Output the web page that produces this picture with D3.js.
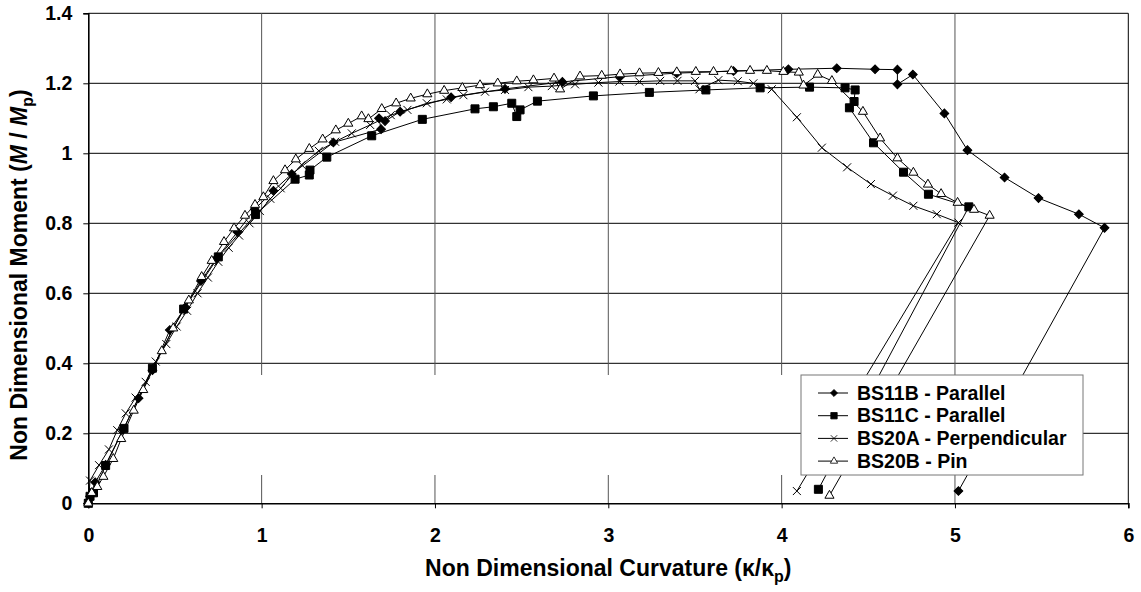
<!DOCTYPE html>
<html>
<head>
<meta charset="utf-8">
<script src="https://cdn.jsdelivr.net/npm/d3@7"></script>
<style>
  body { margin: 0; background: #fff; }
  text { font-family: Arial, "Liberation Sans", sans-serif; font-weight: bold; }
</style>
</head>
<body>
<div id="chart"></div>
<script>
// moment-curvature test data, [curvature, moment] (both non dimensional)
var bs11b = [[0,0],[0.01,0.02],[0.04,0.06],[0.1,0.11],[0.2,0.21],[0.29,0.3],[0.37,0.38],[0.47,0.495],
  [0.56,0.56],[0.65,0.635],[0.74,0.7],[0.86,0.775],[0.96,0.84],[1.068,0.893],[1.174,0.941],[1.414,1.031],
  [1.689,1.069],[1.677,1.1],[1.712,1.092],[1.799,1.119],[2.093,1.16],[2.404,1.184],[2.735,1.204],
  [3.068,1.219],[3.395,1.229],[3.722,1.235],[4.039,1.24],[4.318,1.243],[4.539,1.24],[4.668,1.239],
  [4.668,1.197],[4.757,1.225],[4.939,1.114],[5.072,1.009],[5.286,0.931],[5.482,0.872],[5.715,0.826],
  [5.863,0.787],[5.02,0.035]];

var bs11c = [[0,0],[0.01,0.02],[0.03,0.03],[0.1,0.108],[0.206,0.214],[0.37,0.386],[0.55,0.555],
  [0.75,0.704],[0.965,0.825],[1.193,0.926],[1.275,0.938],[1.279,0.952],[1.376,0.989],[1.635,1.05],
  [1.927,1.097],[2.231,1.127],[2.337,1.133],[2.443,1.143],[2.472,1.105],[2.491,1.124],[2.591,1.149],
  [2.914,1.164],[3.237,1.174],[3.563,1.181],[3.876,1.187],[4.161,1.189],[4.366,1.187],[4.424,1.181],
  [4.418,1.148],[4.391,1.13],[4.53,1.03],[4.703,0.946],[4.847,0.883],[5.08,0.847],[4.212,0.04]];

var bs20a = [[0,0],[0.01,0.065],[0.062,0.109],[0.119,0.154],[0.167,0.209],[0.216,0.257],[0.273,0.302],
  [0.331,0.347],[0.389,0.405],[0.45,0.455],[0.51,0.505],[0.57,0.55],[0.63,0.6],[0.69,0.645],[0.75,0.69],
  [0.81,0.73],[0.87,0.765],[0.93,0.8],[0.99,0.835],[1.05,0.87],[1.11,0.9],[1.17,0.935],[1.231,0.967],
  [1.33,1.007],[1.424,1.033],[1.52,1.057],[1.626,1.081],[1.745,1.109],[1.841,1.124],[1.953,1.143],
  [2.068,1.154],[2.164,1.166],[2.289,1.176],[2.404,1.181],[2.539,1.189],[2.674,1.192],[2.808,1.197],
  [2.943,1.202],[3.064,1.205],[3.179,1.205],[3.299,1.207],[3.399,1.207],[3.501,1.207],[3.526,1.183],
  [3.635,1.209],[3.747,1.206],[3.837,1.2],[3.943,1.183],[4.088,1.103],[4.232,1.016],[4.378,0.96],
  [4.515,0.912],[4.642,0.879],[4.76,0.85],[4.895,0.826],[5.02,0.802],[4.088,0.035]];

var bs20b = [[0,0],[0.02,0.03],[0.052,0.047],[0.087,0.076],[0.144,0.127],[0.19,0.184],[0.262,0.265],
  [0.317,0.324],[0.424,0.435],[0.49,0.5],[0.58,0.58],[0.654,0.647],[0.712,0.693],[0.783,0.747],
  [0.841,0.786],[0.904,0.822],[0.962,0.853],[1.01,0.875],[1.068,0.921],[1.135,0.952],[1.197,0.983],
  [1.275,1.013],[1.352,1.04],[1.428,1.066],[1.5,1.085],[1.577,1.106],[1.616,1.098],[1.693,1.127],
  [1.776,1.143],[1.86,1.157],[1.956,1.169],[2.053,1.179],[2.158,1.187],[2.26,1.195],[2.362,1.2],
  [2.472,1.206],[2.568,1.209],[2.687,1.214],[2.722,1.183],[2.837,1.22],[2.962,1.222],[3.068,1.226],
  [3.18,1.229],[3.289,1.23],[3.395,1.232],[3.505,1.233],[3.607,1.233],[3.71,1.235],[3.818,1.236],
  [3.915,1.236],[4.01,1.233],[4.099,1.231],[4.126,1.194],[4.208,1.225],[4.29,1.207],[4.469,1.119],
  [4.568,1.043],[4.668,0.986],[4.76,0.945],[4.844,0.911],[4.92,0.884],[5.015,0.859],[5.11,0.839],
  [5.2,0.822],[4.276,0.022]];

var seriesNames = ["BS11B - Parallel", "BS11C - Parallel", "BS20A - Perpendicular", "BS20B - Pin"];
var xTicks = [0, 1, 2, 3, 4, 5, 6];
var yTicks = [0, 0.2, 0.4, 0.6, 0.8, 1, 1.2, 1.4];

var width = 1141, height = 592;
var plotL = 88.3, plotR = 1128.3, plotT = 13.3, plotB = 503.3;

var x = d3.scaleLinear().domain([0, 6]).range([plotL, plotR]);
var y = d3.scaleLinear().domain([0, 1.4]).range([plotB, plotT]);

var svg = d3.select("#chart").append("svg")
    .attr("width", width)
    .attr("height", height);

// legend box position, the vertical grid lines stop at its band
var legX = 801, legY = 375, legW = 282, legH = 100;

// horizontal grid
svg.append("g").selectAll("line")
    .data(yTicks.slice(1))
    .enter().append("line")
    .attr("x1", plotL).attr("x2", plotR)
    .attr("y1", function(d) { return y(d); })
    .attr("y2", function(d) { return y(d); })
    .style("stroke", "#000")
    .style("stroke-width", 1);

// vertical grid, in two pieces
var vgrid = svg.append("g");
xTicks.slice(1, -1).forEach(function(t) {
    vgrid.append("line")
        .attr("x1", x(t)).attr("x2", x(t))
        .attr("y1", plotT).attr("y2", legY)
        .style("stroke", "#555").style("stroke-width", 1);
    vgrid.append("line")
        .attr("x1", x(t)).attr("x2", x(t))
        .attr("y1", legY + legH).attr("y2", plotB)
        .style("stroke", "#555").style("stroke-width", 1);
});

// right border
svg.append("line")
    .attr("x1", plotR).attr("x2", plotR).attr("y1", plotT).attr("y2", plotB)
    .style("stroke", "#000").style("stroke-width", 1);

// axes
var xAxis = d3.axisBottom(x).tickValues(xTicks).tickSize(5).tickPadding(20).tickFormat(d3.format("d"));
var yAxis = d3.axisLeft(y).tickValues(yTicks).tickSize(5).tickPadding(11)
    .tickFormat(function(d) { return d === 0 || d === 1 ? d3.format("d")(d) : d3.format(".1f")(d); });

var gx = svg.append("g").attr("transform", "translate(0," + plotB + ")").call(xAxis);
var gy = svg.append("g").attr("transform", "translate(" + plotL + ",0)").call(yAxis);

[gx, gy].forEach(function(g) {
    g.select(".domain").style("stroke", "#000").style("stroke-width", 1.6);
    g.selectAll(".tick line").style("stroke", "#000");
    g.selectAll(".tick text")
        .style("font-size", "19.5px")
        .style("font-family", "Arial, 'Liberation Sans', sans-serif")
        .style("font-weight", "bold")
        .style("fill", "#000");
});

// symbols
var diamondPath = d3.symbol().type(d3.symbolSquare).size(38)();
var squarePath = d3.symbol().type(d3.symbolSquare).size(64)();
var trianglePath = d3.symbol().type(d3.symbolTriangle).size(36)();
var crossPath = "M-4,-4L4,4M-4,4L4,-4";

var styles = [
    { data: bs11b, path: diamondPath, rotate: 45, fill: "#000", stroke: "#000" },
    { data: bs11c, path: squarePath, rotate: 0, fill: "#000", stroke: "#000" },
    { data: bs20a, path: crossPath, rotate: 0, fill: "none", stroke: "#000" },
    { data: bs20b, path: trianglePath, rotate: 0, fill: "#fff", stroke: "#000" }
];

var line = d3.line()
    .x(function(d) { return x(d[0]); })
    .y(function(d) { return y(d[1]); });

styles.forEach(function(s) {
    svg.append("path")
        .datum(s.data)
        .attr("d", line)
        .style("fill", "none")
        .style("stroke", "#000")
        .style("stroke-width", 1);
});

styles.forEach(function(s) {
    svg.append("g").selectAll("path")
        .data(s.data)
        .enter().append("path")
        .attr("d", s.path)
        .attr("transform", function(d) {
            return "translate(" + x(d[0]) + "," + y(d[1]) + ") rotate(" + s.rotate + ")";
        })
        .style("fill", s.fill)
        .style("stroke", s.stroke)
        .style("stroke-width", 1);
});

// legend
var leg = svg.append("g").attr("transform", "translate(" + legX + "," + legY + ")");
leg.append("rect")
    .attr("width", legW).attr("height", legH)
    .style("fill", "#fff")
    .style("stroke", "#777")
    .style("stroke-width", 1);

seriesNames.forEach(function(name, i) {
    var row = leg.append("g").attr("transform", "translate(0," + (18 + i * 22.7) + ")");
    row.append("line")
        .attr("x1", 17).attr("x2", 47)
        .style("stroke", "#000").style("stroke-width", 1);
    row.append("path")
        .attr("d", styles[i].path)
        .attr("transform", "translate(33,0) rotate(" + styles[i].rotate + ") scale(0.8)")
        .style("fill", styles[i].fill)
        .style("stroke", styles[i].stroke)
        .style("stroke-width", 1);
    row.append("text")
        .attr("x", 56)
        .attr("y", 6.5)
        .style("font-size", "19.5px")
        .text(name);
});

// axis titles
var xt = svg.append("text")
    .attr("x", (plotL + plotR) / 2)
    .attr("y", 576)
    .attr("text-anchor", "middle")
    .style("font-size", "23px");
xt.append("tspan").text("Non Dimensional Curvature (\u03ba/\u03ba");
xt.append("tspan").attr("dy", 6).style("font-size", "16px").text("p");
xt.append("tspan").attr("dy", -6).text(")");

var yt = svg.append("text")
    .attr("transform", "translate(27,275) rotate(-90)")
    .attr("text-anchor", "middle")
    .style("font-size", "23px");
yt.append("tspan").text("Non Dimensional Moment (");
yt.append("tspan").style("font-style", "italic").text("M");
yt.append("tspan").text(" / ");
yt.append("tspan").style("font-style", "italic").text("M");
yt.append("tspan").attr("dy", 6).style("font-size", "16px").text("p");
yt.append("tspan").attr("dy", -6).text(")");
</script>
</body>
</html>
